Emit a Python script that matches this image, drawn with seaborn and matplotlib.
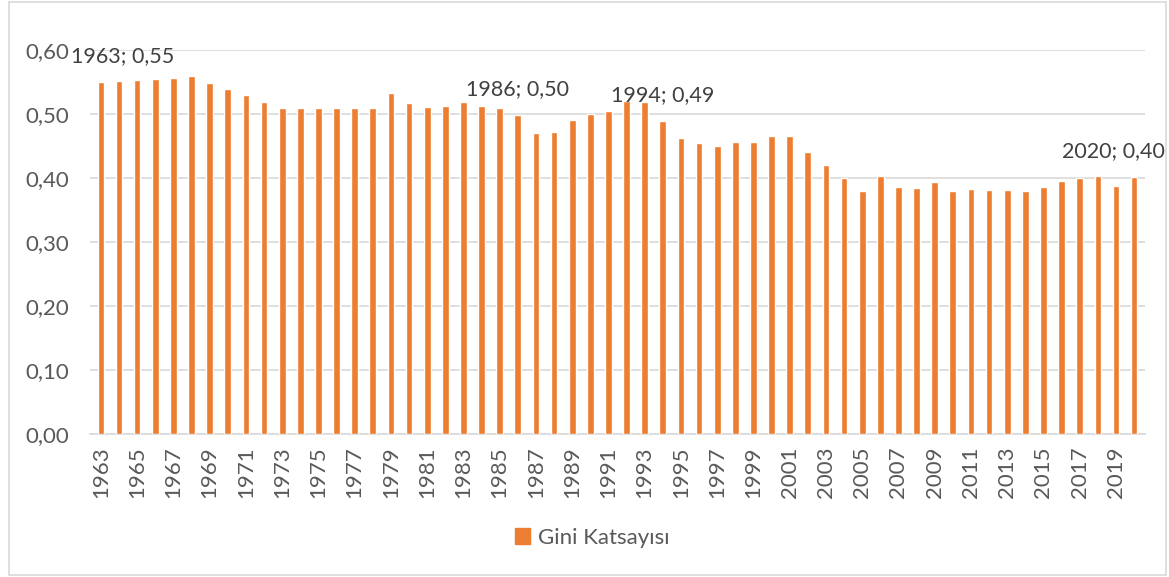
import matplotlib
matplotlib.use("Agg")
import matplotlib.pyplot as plt
import seaborn as sns
import pandas as pd
from matplotlib.patches import Rectangle, Patch

years = list(range(1963, 2021))
gini = [0.550, 0.552, 0.553, 0.555, 0.557, 0.559, 0.549, 0.539, 0.529, 0.519,
        0.509, 0.509, 0.509, 0.509, 0.509, 0.509, 0.533, 0.517, 0.511, 0.513,
        0.519, 0.512, 0.510, 0.499, 0.470, 0.472, 0.491, 0.500, 0.505, 0.521,
        0.519, 0.489, 0.463, 0.454, 0.450, 0.456, 0.457, 0.466, 0.465, 0.440,
        0.420, 0.400, 0.380, 0.403, 0.386, 0.385, 0.394, 0.380, 0.383, 0.382,
        0.382, 0.379, 0.386, 0.396, 0.400, 0.403, 0.387, 0.402]
label_years = [1963, 1986, 1994, 2020]
label_texts = ["1963; 0,55", "1986; 0,50", "1994; 0,49", "2020; 0,40"]
label_shift = [16, 0, 0, -15]  # points
y_ticks = [0.0, 0.1, 0.2, 0.3, 0.4, 0.5, 0.6]
series_name = "Gini Katsayısı"

sns.set_theme(style="white")
plt.rcParams['font.family'] = ['Lato', 'DejaVu Sans']

df = pd.DataFrame({"year": [str(y) for y in years], "gini": gini})

fig = plt.figure(figsize=(11.69, 5.77), dpi=100)
ax = fig.add_axes([90 / 1169, 1 - 434 / 577, (1145 - 90) / 1169, (434 - 50) / 577])

orange = "#ED7D31"
sns.barplot(data=df, x="year", y="gini", color=orange, width=0.37,
            saturation=1, ax=ax, zorder=3)

ax.set_ylim(0, 0.6)
ax.set_yticks(y_ticks)
ax.set_yticklabels([f"{v:.2f}".replace(".", ",") for v in y_ticks])
ax.set_xlim(-0.6, len(years) - 0.4)
pos = list(range(0, len(years), 2))
ax.set_xticks(pos)
ax.set_xticklabels([str(years[i]) for i in pos], rotation=90)
ax.tick_params(axis="both", length=0, colors="#595959", labelsize=16)
ax.tick_params(axis="x", pad=9)
ax.tick_params(axis="y", pad=15)
ax.grid(axis="y", color="#D9D9D9", linewidth=1.2, zorder=0)
ax.set_axisbelow(True)
for s in ["top", "right", "left"]:
    ax.spines[s].set_visible(False)
ax.spines["bottom"].set_color("#D9D9D9")
ax.spines["bottom"].set_linewidth(1.2)
ax.set_xlabel("")
ax.set_ylabel("")

for yr, txt, sh in zip(label_years, label_texts, label_shift):
    i = years.index(yr)
    ax.annotate(txt, xy=(i, gini[i]), xytext=(sh, 18.5), textcoords="offset points",
                ha="center", va="center", fontsize=15.5, color="#404040", zorder=5)

handles = [Patch(facecolor=orange, edgecolor=orange, label=series_name)]
fig.legend(handles=handles, loc="center", bbox_to_anchor=(592 / 1169, 1 - 538 / 577),
           frameon=False, fontsize=16, handlelength=0.7, handleheight=0.7,
           handletextpad=0.35, labelcolor="#595959")

fig.patches.append(Rectangle((9 / 1169, 2 / 577), (1166 - 9) / 1169, (575 - 2) / 577,
                             transform=fig.transFigure, fill=False,
                             edgecolor="#D9D9D9", linewidth=1.2))

fig.savefig("out.png", dpi=100)
